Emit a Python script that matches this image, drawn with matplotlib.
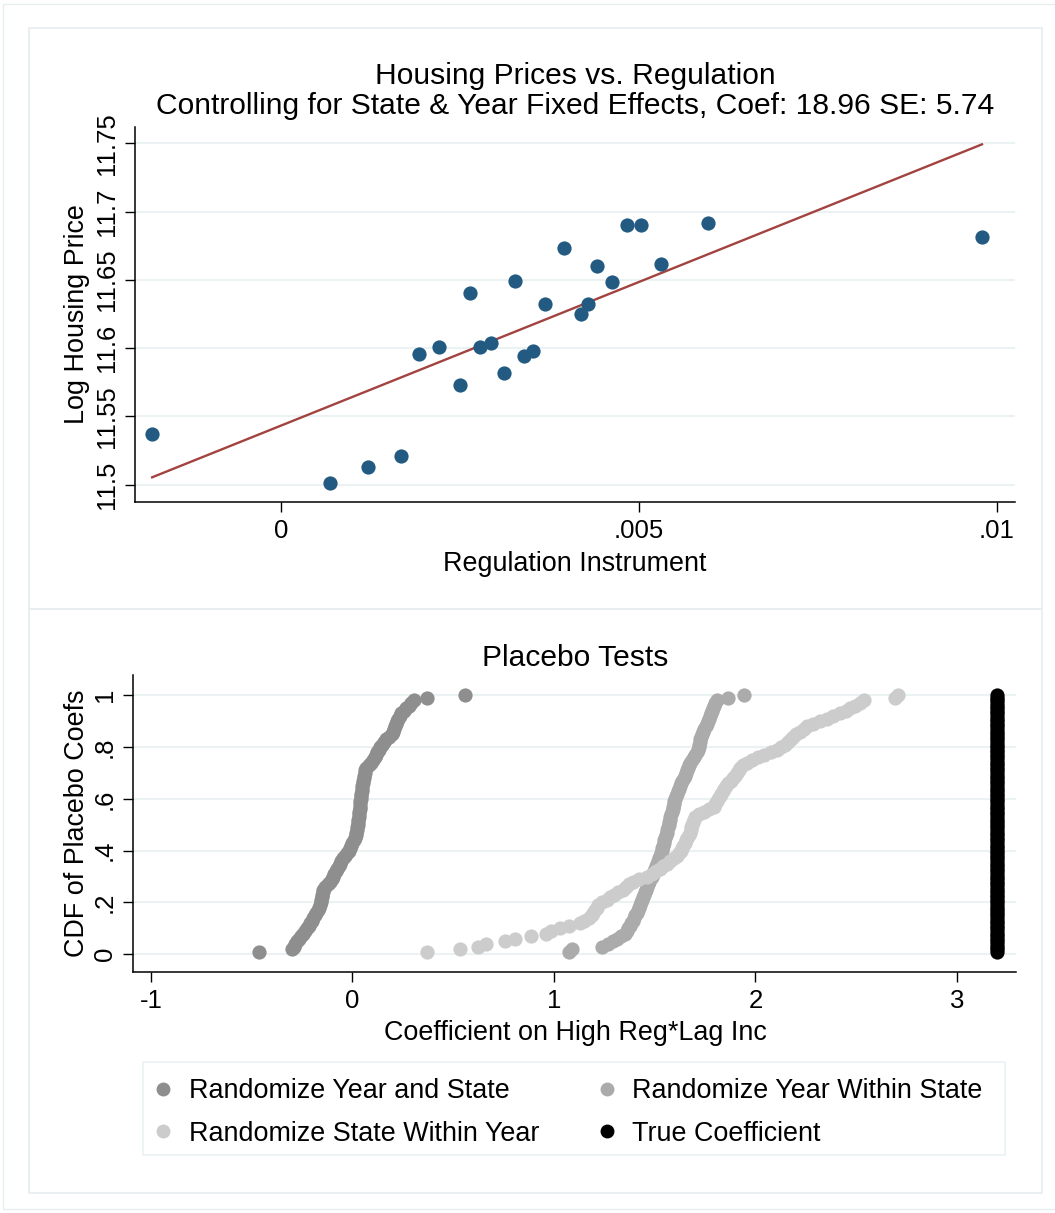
import numpy as np
import matplotlib.pyplot as plt
from matplotlib.patches import Rectangle
from matplotlib.lines import Line2D

plt.rcParams['font.family'] = ['Liberation Sans', 'DejaVu Sans']

# ---- top panel: binned regulation instrument vs log housing price ----
reg_x = [-0.00180, 0.00068, 0.00122, 0.00167, 0.00193, 0.00221, 0.00250,
         0.00264, 0.00278, 0.00293, 0.00312, 0.00327, 0.00339, 0.00352,
         0.00369, 0.00395, 0.00419, 0.00429, 0.00441, 0.00462, 0.00483,
         0.00503, 0.00531, 0.00596, 0.00979]
log_price = [11.5369, 11.5010, 11.5127, 11.5208, 11.5955, 11.6011, 11.5733,
             11.6402, 11.6007, 11.6040, 11.5816, 11.6490, 11.5945, 11.5977,
             11.6326, 11.6736, 11.6248, 11.6324, 11.6602, 11.6485, 11.6903,
             11.6903, 11.6615, 11.6915, 11.6817]
fit_intercept = 11.5433
fit_slope = 21.05

top_title = ['Housing Prices vs. Regulation',
             'Controlling for State & Year Fixed Effects, Coef: 18.96 SE: 5.74']
top_yticks = [11.5, 11.55, 11.6, 11.65, 11.7, 11.75]
top_ytick_labels = ['11.5', '11.55', '11.6', '11.65', '11.7', '11.75']
top_xticks = [0, 0.005, 0.01]
top_xtick_labels = ['0', '.005', '.01']

# ---- bottom panel: sorted placebo coefficients (100 draws each) ----
year_and_state = [
    -0.464, -0.300, -0.292, -0.285, -0.276, -0.266, -0.258, -0.247, -0.236, -0.227,
    -0.218, -0.210, -0.202, -0.195, -0.188, -0.180, -0.172, -0.165, -0.162, -0.158,
    -0.155, -0.152, -0.150, -0.147, -0.144, -0.135, -0.124, -0.114, -0.104, -0.095,
    -0.090, -0.083, -0.076, -0.069, -0.062, -0.055, -0.048, -0.038, -0.027, -0.018,
    -0.012, -0.006, 0.000, 0.006, 0.011, 0.015, 0.018, 0.021, 0.023, 0.025,
    0.027, 0.028, 0.030, 0.031, 0.033, 0.035, 0.037, 0.038, 0.039, 0.041,
    0.042, 0.043, 0.045, 0.047, 0.049, 0.051, 0.053, 0.055, 0.058, 0.061,
    0.064, 0.068, 0.080, 0.092, 0.103, 0.110, 0.117, 0.124, 0.130, 0.136,
    0.144, 0.154, 0.168, 0.183, 0.194, 0.199, 0.204, 0.209, 0.214, 0.219,
    0.226, 0.234, 0.243, 0.255, 0.266, 0.278, 0.289, 0.305, 0.371, 0.558]
year_within_state = [
    1.075, 1.088, 1.237, 1.270, 1.294, 1.315, 1.335, 1.350, 1.360, 1.368,
    1.376, 1.384, 1.392, 1.398, 1.404, 1.410, 1.416, 1.422, 1.428, 1.432,
    1.436, 1.441, 1.446, 1.451, 1.456, 1.460, 1.466, 1.472, 1.478, 1.484,
    1.489, 1.494, 1.499, 1.505, 1.511, 1.517, 1.523, 1.528, 1.531, 1.534,
    1.537, 1.540, 1.544, 1.548, 1.552, 1.556, 1.560, 1.563, 1.566, 1.569,
    1.572, 1.575, 1.578, 1.582, 1.586, 1.589, 1.592, 1.595, 1.598, 1.602,
    1.606, 1.609, 1.614, 1.619, 1.624, 1.630, 1.637, 1.643, 1.650, 1.656,
    1.661, 1.665, 1.670, 1.676, 1.684, 1.693, 1.702, 1.710, 1.714, 1.718,
    1.721, 1.724, 1.727, 1.730, 1.734, 1.740, 1.746, 1.752, 1.758, 1.764,
    1.769, 1.774, 1.779, 1.784, 1.789, 1.794, 1.800, 1.808, 1.865, 1.944]
state_within_year = [
    0.371, 0.534, 0.624, 0.663, 0.757, 0.806, 0.886, 0.960, 0.985, 1.030,
    1.076, 1.130, 1.150, 1.175, 1.188, 1.196, 1.205, 1.212, 1.220, 1.240,
    1.262, 1.280, 1.300, 1.320, 1.340, 1.358, 1.372, 1.390, 1.420, 1.460,
    1.485, 1.505, 1.525, 1.540, 1.560, 1.578, 1.595, 1.608, 1.618, 1.628,
    1.636, 1.642, 1.648, 1.655, 1.662, 1.668, 1.673, 1.678, 1.682, 1.686,
    1.690, 1.693, 1.700, 1.720, 1.745, 1.770, 1.792, 1.800, 1.808, 1.815,
    1.822, 1.830, 1.838, 1.846, 1.856, 1.866, 1.876, 1.888, 1.900, 1.910,
    1.918, 1.925, 1.940, 1.960, 1.985, 2.010, 2.040, 2.075, 2.105, 2.125,
    2.145, 2.162, 2.176, 2.186, 2.200, 2.220, 2.240, 2.258, 2.285, 2.320,
    2.355, 2.385, 2.420, 2.450, 2.470, 2.495, 2.520, 2.540, 2.690, 2.705]
true_coef = 3.2

series_names = ['Randomize Year and State', 'Randomize Year Within State',
                'Randomize State Within Year', 'True Coefficient']
series_colors = ['#8e8e8e', '#ababab', '#cccccc', '#000000']

bottom_xticks = [-1, 0, 1, 2, 3]
bottom_xtick_labels = ['-1', '0', '1', '2', '3']
bottom_yticks = [0, 0.2, 0.4, 0.6, 0.8, 1.0]
bottom_ytick_labels = ['0', '.2', '.4', '.6', '.8', '1']

# ---- layout helpers (pixel positions of the 1055x1213 canvas) ----
W, H = 1055, 1213
def fx(px):
    return px / W
def fy(py):
    return 1 - py / H

fig = plt.figure(figsize=(W / 100, H / 100), dpi=100)
frame_col = '#e6eeef'
grid_col = '#eaf2f3'
fig.add_artist(Rectangle((fx(3), fy(1209)), fx(1060) - fx(3), fy(4) - fy(1209),
                         transform=fig.transFigure, fill=False, ec=frame_col, lw=1))
fig.add_artist(Rectangle((fx(29), fy(609)), fx(1042) - fx(29), fy(28) - fy(609),
                         transform=fig.transFigure, fill=False, ec=frame_col, lw=1.2))
fig.add_artist(Rectangle((fx(29), fy(1193)), fx(1042) - fx(29), fy(609) - fy(1193),
                         transform=fig.transFigure, fill=False, ec=frame_col, lw=1.2))
# legend box
fig.add_artist(Rectangle((fx(143), fy(1155)), fx(1005) - fx(143), fy(1062) - fy(1155),
                         transform=fig.transFigure, fill=False, ec=grid_col, lw=1.2))

TICK_FS = 18.5
LAB_FS = 19.4
TITLE_FS = 21.6


def style_axes(ax):
    for s in ['top', 'right']:
        ax.spines[s].set_visible(False)
    for s in ['left', 'bottom']:
        ax.spines[s].set_linewidth(1.1)
    ax.tick_params(direction='out', length=7.2, width=1.0, labelsize=TICK_FS, pad=5)
    ax.tick_params(axis='y', labelrotation=90, pad=4.5)
    for lab in ax.get_yticklabels():
        lab.set_va('center')
    ax.yaxis.grid(True, color=grid_col, lw=1.5)
    ax.set_axisbelow(True)


# ---- top panel ----
ax1 = fig.add_axes([fx(135), fy(502.3), (1015 - 135) / W, (502.3 - 126.7) / H])
ax1.set_xlim(-0.002039, 0.010251)
ax1.set_ylim(11.4871, 11.7623)
xs = np.array([min(reg_x), max(reg_x)])
ax1.plot(xs, fit_intercept + fit_slope * xs, color='#a3433f', lw=1.7, zorder=2)
ax1.scatter(reg_x, log_price, s=105, color='#235a82', linewidths=0, zorder=3)
ax1.set_xticks(top_xticks)
ax1.set_xticklabels(top_xtick_labels)
ax1.set_yticks(top_yticks)
ax1.set_yticklabels(top_ytick_labels)
style_axes(ax1)

fig.text(fx(575), fy(84), top_title[0], ha='center', va='baseline', fontsize=TITLE_FS)
fig.text(fx(575), fy(114), top_title[1], ha='center', va='baseline', fontsize=TITLE_FS)
fig.text(fx(575), fy(571), 'Regulation Instrument', ha='center', va='baseline', fontsize=LAB_FS)
fig.text(fx(83.5), fy(314), 'Log Housing Price', ha='center', va='baseline',
         rotation=90, rotation_mode='anchor', fontsize=LAB_FS)

# ---- bottom panel ----
ax2 = fig.add_axes([fx(133.3), fy(971.7), (1016 - 133.3) / W, (971.7 - 675) / H])
ax2.set_xlim(-1.0878, 3.2928)
ax2.set_ylim(-0.0672, 1.0784)
placebo = [year_and_state, year_within_state, state_within_year]
for vals, col in zip(placebo, series_colors[:3]):
    n = len(vals)
    cdf = np.arange(1, n + 1) / n
    ax2.scatter(np.sort(vals), cdf, s=105, color=col, linewidths=0, zorder=3)
n = len(year_and_state)
ax2.scatter(np.full(n, true_coef), np.arange(1, n + 1) / n, s=105,
            color=series_colors[3], linewidths=0, zorder=3)
ax2.set_xticks(bottom_xticks)
ax2.set_xticklabels(bottom_xtick_labels)
ax2.set_yticks(bottom_yticks)
ax2.set_yticklabels(bottom_ytick_labels)
style_axes(ax2)

fig.text(fx(575), fy(666), 'Placebo Tests', ha='center', va='baseline', fontsize=TITLE_FS)
fig.text(fx(575), fy(1040), 'Coefficient on High Reg*Lag Inc', ha='center',
         va='baseline', fontsize=LAB_FS)
fig.text(fx(83.5), fy(823), 'CDF of Placebo Coefs', ha='center', va='baseline',
         rotation=90, rotation_mode='anchor', fontsize=LAB_FS)

handles = [Line2D([], [], ls='none', marker='o', markersize=9, color=c, mec=c)
           for c in series_colors]
# legend fills row-wise like the original: A B / C True
order = [0, 2, 1, 3]
leg = fig.legend([handles[i] for i in order], [series_names[i] for i in order],
                 ncol=2, loc='center', mode='expand', borderaxespad=0,
                 bbox_to_anchor=(fx(143), fy(1159), fx(992) - fx(143), fy(1062) - fy(1155)),
                 fontsize=LAB_FS, frameon=False,
                 handletextpad=0.55, handlelength=0.8, labelspacing=0.6, borderpad=0.35,
                 columnspacing=1.0)

fig.savefig('out.png', dpi=100)
